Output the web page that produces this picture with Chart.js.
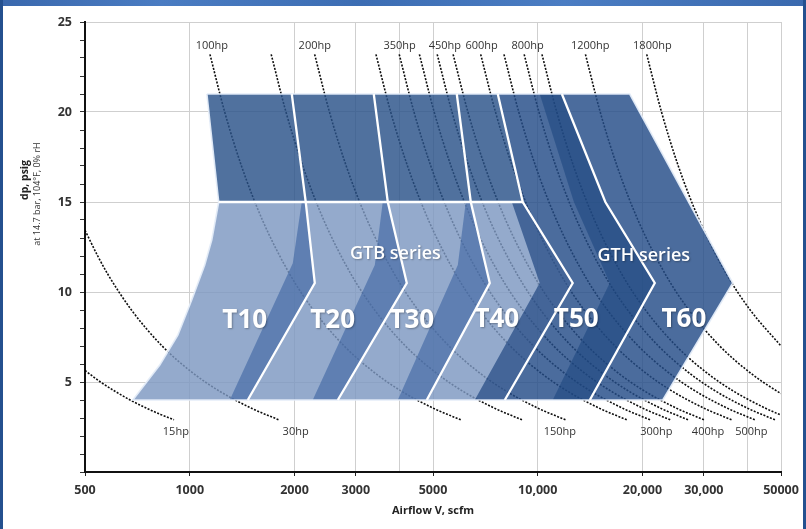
<!DOCTYPE html>
<html>
<head>
<meta charset="utf-8">
<script src="https://cdn.jsdelivr.net/npm/chart.js@4.4.1/dist/chart.umd.min.js"></script>
<style>
html,body{margin:0;padding:0;background:#fff;}
#wrap{position:relative;width:806px;height:529px;overflow:hidden;background:#fff;}
#c{position:absolute;left:0;top:0;}
.bd{position:absolute;pointer-events:none;}
</style>
</head>
<body>
<div id="wrap">
<canvas id="c" width="806" height="529"></canvas>
<div class="bd" style="left:0;top:0;width:806px;height:6px;background:linear-gradient(90deg,#3a68ad,#4a7cc2 20%,#3c6db3 45%,#4b7dc3 70%,#3a69ae);"></div>
<div class="bd" style="left:0;top:0;width:3px;height:529px;background:#24508f;"></div>
<div class="bd" style="right:0;top:0;width:3px;height:529px;background:#24508f;"></div>
</div>
<script>
// ---------- axes ----------
const X_TICKS = [500, 1000, 2000, 3000, 4000, 5000, 10000, 20000, 30000, 40000, 50000];
const X_TICK_LABELS = ['500', '1000', '2000', '3000', '', '5000', '10,000', '20,000', '30,000', '', '50000'];
const Y_MIN = 0, Y_MAX = 25;
const X_TITLE = 'Airflow V, scfm';
const Y_TITLE = 'dp, psig';
const Y_SUBTITLE = 'at 14.7 bar, 104°F, 0% rH';

// ---------- hp curves [airflow scfm, dp psig] ----------
const curve15 = [[500,5.64],[554,5.0],[608,4.5],[674,4.0],[760,3.5],[824,3.2],[901,2.9]];
const curve30 = [[500,13.43],[544,12],[581,11],[680,9],[833,7],[1021,5.5],[1215,4.5],[1520,3.5],[1802,2.9]];
const curve100 = [[1143,23.2],[1260,20],[1408,17],[1617,14],[1937,11],[2266,9],[2778,7],[3405,5.5],[4051,4.5],[5066,3.5],[6008,2.9]];
const curve150 = [[1714,23.2],[1890,20],[2112,17],[2426,14],[2905,11],[3398,9],[4167,7],[5107,5.5],[6076,4.5],[7598,3.5],[9012,2.9]];
const curve200 = [[2285,23.2],[2520,20],[2816,17],[3234,14],[3873,11],[4531,9],[5556,7],[6809,5.5],[8102,4.5],[10131,3.5],[12016,2.9]];
const curve300 = [[3428,23.2],[3779,20],[4224,17],[4851,14],[5810,11],[6797,9],[8334,7],[10214,5.5],[12153,4.5],[15196,3.5],[18023,2.9]];
const curve350 = [[3999,23.2],[4409,20],[4928,17],[5660,14],[6778,11],[7929,9],[9723,7],[11916,5.5],[14178,4.5],[17729,3.5],[21027,2.9]];
const curve400 = [[4570,23.2],[5039,20],[5632,17],[6468,14],[7747,11],[9062,9],[11112,7],[13619,5.5],[16204,4.5],[20262,3.5],[24031,2.9]];
const curve450 = [[5141,23.2],[5669,20],[6336,17],[7277,14],[8715,11],[10195,9],[12500,7],[15321,5.5],[18229,4.5],[22795,3.5],[27035,2.9]];
const curve500 = [[5712,23.2],[6299,20],[7040,17],[8085,14],[9683,11],[11327,9],[13890,7],[17023,5.5],[20255,4.5],[25327,3.5],[30039,2.9]];
const curve600 = [[6855,23.2],[7559,20],[8447,17],[9702,14],[11620,11],[13593,9],[16668,7],[20428,5.5],[24305,4.5],[30393,3.5],[36047,2.9]];
const curve700 = [[7997,23.2],[8818,20],[9855,17],[11319,14],[13557,11],[15858,9],[19446,7],[23833,5.5],[28356,4.5],[35459,3.5],[42055,2.9]];
const curve800 = [[9140,23.2],[10078,20],[11263,17],[12936,14],[15493,11],[18124,9],[22223,7],[27237,5.5],[32407,4.5],[40524,3.5],[48063,2.9]];
const curve900 = [[10282,23.2],[11338,20],[12671,17],[14553,14],[17430,11],[20389,9],[25001,7],[30642,5.5],[36458,4.5],[45590,3.5],[50000,3.16]];
const curve1200 = [[13710,23.2],[15117,20],[16895,17],[19405,14],[23240,11],[27186,9],[33335,7],[40856,5.5],[48611,4.5],[50000,4.36]];
const curve1800 = [[20565,23.2],[22676,20],[25343,17],[29107,14],[34860,11],[40779,9],[50000,7.0]];
const HP_CURVES = [curve15, curve30, curve100, curve150, curve200, curve300, curve350, curve400,
                   curve450, curve500, curve600, curve700, curve800, curve900, curve1200, curve1800];

// ---------- model regions [airflow scfm, dp psig] ----------
const polyUpperGTB = [[1120,21],[7675,21],[9055,15],[1211,15]];
const polyGTH = [[7675,21],[18380,21],[36340,10.5],[22870,4],[8039,4],[12600,10.5],[9055,15]];
const polyLowerGTB = [[1211,15],[9055,15],[12600,10.5],[8039,4],[686,4],[820,5.94],[924,7.6],[1013,9.56],[1104,11.5],[1157,12.9]];
const stripT10 = [[2098,15],[2154,15],[2287,10.5],[1468,4],[1303,4],[1977,11.6]];
const stripT20 = [[3585,15],[3707,15],[4204,10.5],[2663,4],[2256,4],[3402,11.5]];
const stripT30 = [[6212,15],[6420,15],[7279,10.5],[4798,4],[3960,4],[5892,11.5]];
const stripT40 = [[8420,15],[9055,15],[12600,10.5],[8039,4],[6592,4],[10130,10.5]];
const stripT50 = [[10130,21],[11730,21],[15640,15],[21690,10.5],[14110,4],[11040,4],[16100,10.5],[12700,15]];

// ---------- separating lines ----------
const line1 = [[1964,21],[2154,15],[2287,10.5],[1468,4]];
const line2 = [[3379,21],[3707,15],[4204,10.5],[2663,4]];
const line3 = [[5852,21],[6420,15],[7279,10.5],[4798,4]];
const line4 = [[7675,21],[9055,15],[12600,10.5],[8039,4]];
const line5 = [[11730,21],[15640,15],[21690,10.5],[14110,4]];
const line15psig = [[1211,15],[9055,15]];
const outline = [[1120,21],[18380,21],[36340,10.5],[22870,4],[686,4],[820,5.94],[924,7.6],[1013,9.56],[1104,11.5],[1157,12.9],[1211,15],[1120,21]];

// ---------- labels ----------
const MODEL_LABELS = ['T10','T20','T30','T40','T50','T60'];
const MODEL_POS = [[1439,8.4],[2575,8.4],[4346,8.4],[7627,8.45],[12900,8.45],[26300,8.45]];
const SERIES_LABELS = ['GTB series','GTH series'];
const SERIES_POS = [[3900,12.1],[20170,12.0]];
const HP_TOP_LABELS = ['100hp','200hp','350hp','450hp','600hp','800hp','1200hp','1800hp'];
const HP_TOP_POS = [[1157,23.7],[2287,23.7],[4010,23.7],[5407,23.7],[6900,23.7],[9354,23.7],[14150,23.7],[21350,23.7]];
const HP_BOTTOM_LABELS = ['15hp','30hp','150hp','300hp','400hp','500hp'];
const HP_BOTTOM_POS = [[912,2.25],[2015,2.25],[11570,2.25],[21920,2.25],[30850,2.25],[41100,2.25]];

// ---------- build ----------
const pts = a => a.map(p => ({x: p[0], y: p[1]}));
const datasets = [];
const polyDs = (d, color, order) => ({data: pts(d), showLine: true, fill: 'shape', backgroundColor: color,
  borderColor: 'rgba(0,0,0,0)', borderWidth: 0, pointRadius: 0, pointHoverRadius: 0, tension: 0, order});
const lineDs = (d, color, width, order) => ({data: pts(d), showLine: true, fill: false,
  borderColor: color, borderWidth: width, pointRadius: 0, pointHoverRadius: 0, tension: 0, order,
  borderJoinStyle: 'miter', borderCapStyle: 'butt'});

HP_CURVES.forEach(c => datasets.push({data: pts(c), showLine: true, fill: false, borderColor: 'rgba(0,0,0,0.95)',
  borderWidth: 1.6, borderDash: [2, 1.5], pointRadius: 0, pointHoverRadius: 0,
  cubicInterpolationMode: 'monotone', order: 40}));

datasets.push(polyDs(polyUpperGTB, 'rgba(42,82,137,0.82)', 30));
datasets.push(polyDs(polyGTH, 'rgba(35,76,135,0.82)', 30));
datasets.push(polyDs(polyLowerGTB, 'rgba(125,151,193,0.82)', 30));
[stripT10, stripT20, stripT30].forEach(s => datasets.push(polyDs(s, 'rgba(60,100,161,0.6)', 20)));
datasets.push(polyDs(stripT40, 'rgba(15,57,119,0.6)', 20));
datasets.push(polyDs(stripT50, 'rgba(30,71,129,0.6)', 20));
datasets.push(lineDs(outline, 'rgba(228,236,248,0.95)', 1.6, 10));
[line1, line2, line3, line4, line5, line15psig].forEach(l => datasets.push(lineDs(l, '#ffffff', 2.3, 5)));

const textPlugin = {
  id: 'chartTexts',
  afterDatasetsDraw(chart) {
    const ctx = chart.ctx, xs = chart.scales.x, ys = chart.scales.y;
    const at = p => [xs.getPixelForValue(p[0]), ys.getPixelForValue(p[1])];
    ctx.save();
    ctx.textAlign = 'center';
    ctx.textBaseline = 'middle';
    ctx.fillStyle = '#ffffff';
    ctx.shadowColor = 'rgba(0,0,0,0.3)';
    ctx.shadowBlur = 2; ctx.shadowOffsetX = 1; ctx.shadowOffsetY = 1;
    ctx.font = 'bold 26px "Open Sans"';
    MODEL_LABELS.forEach((t, i) => { const [x, y] = at(MODEL_POS[i]); ctx.fillText(t, x, y); });
    ctx.font = '600 18px "Open Sans"';
    SERIES_LABELS.forEach((t, i) => { const [x, y] = at(SERIES_POS[i]); ctx.fillText(t, x, y); });
    ctx.shadowColor = 'rgba(0,0,0,0)';
    ctx.fillStyle = '#333333';
    ctx.font = '11px "Open Sans"';
    HP_TOP_LABELS.forEach((t, i) => { const [x, y] = at(HP_TOP_POS[i]); ctx.fillText(t, x, y); });
    HP_BOTTOM_LABELS.forEach((t, i) => { const [x, y] = at(HP_BOTTOM_POS[i]); ctx.fillText(t, x, y); });
    ctx.restore();
  },
  afterDraw(chart) {
    const ctx = chart.ctx;
    ctx.save();
    ctx.fillStyle = '#222';
    ctx.textAlign = 'center';
    ctx.textBaseline = 'middle';
    ctx.translate(25, 180);
    ctx.rotate(-Math.PI / 2);
    ctx.font = 'bold 10.5px "Open Sans"';
    ctx.fillText(Y_TITLE, 0, 0);
    ctx.restore();
    ctx.save();
    ctx.fillStyle = '#333';
    ctx.textAlign = 'center';
    ctx.textBaseline = 'middle';
    ctx.translate(37, 194);
    ctx.rotate(-Math.PI / 2);
    ctx.font = '9px "Open Sans"';
    ctx.fillText(Y_SUBTITLE, 0, 0);
    ctx.restore();
  }
};

Chart.defaults.font.family = '"Open Sans", sans-serif';

new Chart(document.getElementById('c'), {
  type: 'scatter',
  data: {datasets},
  plugins: [textPlugin],
  options: {
    responsive: false,
    animation: false,
    events: [],
    layout: {padding: {top: 22, right: 25, left: 0, bottom: 0}},
    plugins: {
      legend: {display: false},
      tooltip: {enabled: false},
      filler: {drawTime: 'beforeDatasetDraw'}
    },
    scales: {
      x: {
        type: 'logarithmic',
        min: X_TICKS[0],
        max: X_TICKS[X_TICKS.length - 1],
        afterBuildTicks: s => { s.ticks = X_TICKS.map(v => ({value: v})); },
        afterFit: s => { s.height = 57; },
        ticks: {
          autoSkip: false, maxRotation: 0, minRotation: 0, padding: 7,
          color: '#333', font: {size: 12.5, weight: 'bold'},
          callback: (v) => { const i = X_TICKS.indexOf(v); return i >= 0 ? X_TICK_LABELS[i] : ''; }
        },
        grid: {
          color: c => (c.tick && c.tick.value === X_TICKS[0]) ? 'rgba(0,0,0,0)' : '#cfcfcf',
          lineWidth: 1,
          tickLength: 4,
          tickColor: c => { const i = X_TICKS.indexOf(c.tick ? c.tick.value : -1); return (i >= 0 && X_TICK_LABELS[i]) ? '#222' : 'rgba(0,0,0,0)'; }
        },
        border: {display: true, color: '#111', width: 2},
        title: {display: true, text: X_TITLE, color: '#222', font: {size: 11, weight: 'bold'}, padding: {top: 0, bottom: 12}}
      },
      y: {
        type: 'linear',
        min: Y_MIN,
        max: Y_MAX,
        afterFit: s => { s.width = 85; },
        ticks: {
          stepSize: 1, autoSkip: false, padding: 8,
          color: '#333', font: {size: 12.5, weight: 'bold'},
          callback: v => (v % 5 === 0 && v > 0) ? String(v) : ''
        },
        grid: {
          color: c => (c.tick && c.tick.value % 5 === 0 && c.tick.value > 0) ? '#cfcfcf' : 'rgba(0,0,0,0)',
          lineWidth: 1,
          tickLength: 5,
          tickColor: '#333'
        },
        border: {display: true, color: '#111', width: 2}
      }
    }
  }
});
</script>
</body>
</html>
